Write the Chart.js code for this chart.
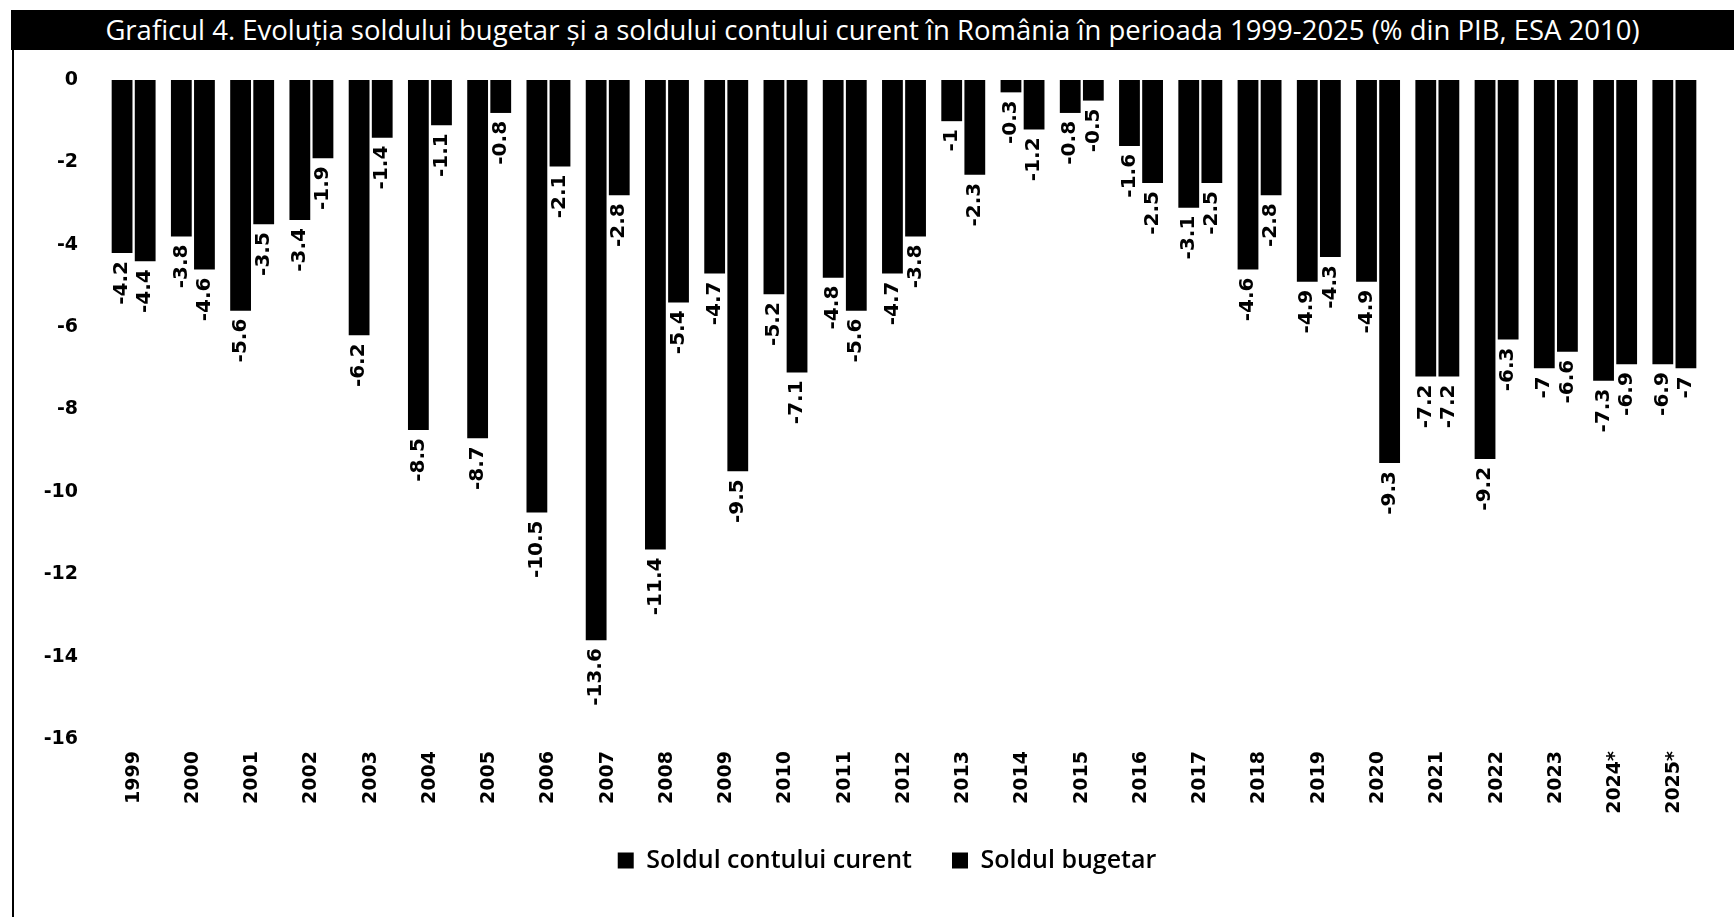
<!DOCTYPE html>
<html lang="ro">
<head>
<meta charset="utf-8">
<title>Graficul 4</title>
<script src="https://cdn.jsdelivr.net/npm/chart.js@4.4.1/dist/chart.umd.min.js"></script>
<style>
  html, body { margin: 0; padding: 0; background: #fff; }
  body { width: 1734px; height: 917px; position: relative; overflow: hidden; }
  #titlu {
    position: absolute; left: 11px; top: 10px; right: 0; height: 40px;
    background: #000; color: #fff; font: 27.5px "Open Sans", sans-serif;
    text-align: center; line-height: 40px; white-space: nowrap;
  }
  #margine { position: absolute; left: 12px; top: 50px; bottom: 0; border-left: 2px solid #000; }
  #grafic { position: absolute; left: 0; top: 0; }
</style>
</head>
<body>
<div id="titlu">Graficul 4. Evoluția soldului bugetar și a soldului contului curent în România în perioada 1999-2025 (% din PIB, ESA 2010)</div>
<div id="margine"></div>
<canvas id="grafic" width="1734" height="917"></canvas>
<script>
// Date (% din PIB)
const ani = ['1999', '2000', '2001', '2002', '2003', '2004', '2005', '2006', '2007', '2008',
  '2009', '2010', '2011', '2012', '2013', '2014', '2015', '2016', '2017', '2018',
  '2019', '2020', '2021', '2022', '2023', '2024*', '2025*'];
const contCurent = [-4.2, -3.8, -5.6, -3.4, -6.2, -8.5, -8.7, -10.5, -13.6, -11.4,
  -4.7, -5.2, -4.8, -4.7, -1, -0.3, -0.8, -1.6, -3.1, -4.6,
  -4.9, -4.9, -7.2, -9.2, -7, -7.3, -6.9];
const soldBugetar = [-4.4, -4.6, -3.5, -1.9, -1.4, -1.1, -0.8, -2.1, -2.8, -5.4,
  -9.5, -7.1, -5.6, -3.8, -2.3, -1.2, -0.5, -2.5, -2.5, -2.8,
  -4.3, -9.3, -7.2, -6.3, -6.6, -6.9, -7];
const tickuriY = [0, -2, -4, -6, -8, -10, -12, -14, -16];

// etichete verticale sub fiecare bara
const eticheteValori = {
  id: 'eticheteValori',
  afterDatasetsDraw(chart) {
    const ctx = chart.ctx;
    ctx.save();
    ctx.font = 'bold 20px "DejaVu Sans"';
    ctx.fillStyle = '#000';
    ctx.textAlign = 'right';
    ctx.textBaseline = 'middle';
    chart.data.datasets.forEach((ds, i) => {
      chart.getDatasetMeta(i).data.forEach((bar, j) => {
        ctx.save();
        ctx.translate(bar.x, bar.y + 8);
        ctx.rotate(-Math.PI / 2);
        ctx.fillText(String(ds.data[j]), 0, 0);
        ctx.restore();
      });
    });
    ctx.restore();
  }
};

// legenda putin mai spre dreapta si mai sus, ca in original
const mutaLegenda = {
  id: 'mutaLegenda',
  afterLayout(chart) {
    const lg = chart.legend;
    if (!lg) return;
    lg.left += 70;
    lg.top -= 11;
    lg.bottom -= 11;
  }
};

new Chart(document.getElementById('grafic'), {
  type: 'bar',
  data: {
    labels: ani,
    datasets: [
      { label: 'Soldul contului curent', data: contCurent, backgroundColor: '#000' },
      { label: 'Soldul bugetar', data: soldBugetar, backgroundColor: '#000' }
    ]
  },
  options: {
    responsive: false,
    animation: false,
    categoryPercentage: 0.78,
    barPercentage: 0.9,
    layout: { padding: { top: 80, left: 0, right: 30, bottom: 23 } },
    plugins: {
      tooltip: { enabled: false },
      legend: {
        position: 'bottom',
        labels: {
          color: '#000',
          boxWidth: 16, boxHeight: 16,
          padding: 40,
          font: { family: 'Open Sans', size: 25, weight: '600' }
        }
      }
    },
    scales: {
      x: {
        grid: { display: false, drawTicks: false },
        border: { display: false },
        afterFit: s => { s.height = 80; },
        ticks: {
          color: '#000', autoSkip: false, minRotation: 90, maxRotation: 90, padding: 12,
          font: { family: 'DejaVu Sans', size: 19, weight: 'bold' }
        }
      },
      y: {
        min: -16, max: 0,
        grid: { display: false, drawTicks: false },
        border: { display: false },
        afterFit: s => { s.width = 104; },
        afterBuildTicks: s => { s.ticks = tickuriY.map(v => ({ value: v })); },
        ticks: {
          color: '#000', padding: 26,
          font: { family: 'DejaVu Sans', size: 19, weight: 'bold' }
        }
      }
    }
  },
  plugins: [eticheteValori, mutaLegenda]
});
</script>
</body>
</html>
